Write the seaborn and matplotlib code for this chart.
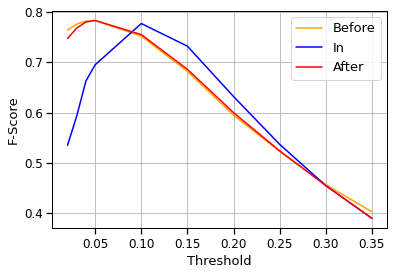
import numpy as np
import pandas as pd
import matplotlib
matplotlib.use("Agg")
import matplotlib.pyplot as plt
import seaborn as sns

# threshold sweep results
thresholds = [0.02, 0.03, 0.04, 0.05, 0.10, 0.15, 0.20, 0.25, 0.30, 0.35]
before = [0.764, 0.776, 0.782, 0.783, 0.752, 0.682, 0.595, 0.523, 0.457, 0.403]
inside = [0.535, 0.593, 0.663, 0.695, 0.777, 0.732, 0.632, 0.537, 0.455, 0.390]
after = [0.747, 0.768, 0.780, 0.783, 0.755, 0.686, 0.600, 0.524, 0.455, 0.390]

sns.set_theme(style="ticks", rc={
    "axes.edgecolor": "black",
    "axes.linewidth": 1.0,
    "axes.labelcolor": "black",
    "text.color": "black",
    "xtick.color": "black",
    "ytick.color": "black",
    "grid.color": "#b0b0b0",
    "grid.linewidth": 0.8,
    "font.size": 12,
    "axes.labelsize": 13,
    "xtick.labelsize": 12,
    "ytick.labelsize": 12,
    "legend.fontsize": 13,
})
plt.rcParams["font.family"] = ["DejaVu Sans"]

df = pd.DataFrame({"Threshold": thresholds, "Before": before, "In": inside, "After": after})
long = df.melt(id_vars="Threshold", var_name="Stage", value_name="F-Score")

fig = plt.figure(figsize=(393 / 72, 272 / 72), dpi=72)
ax = fig.add_axes([0.133, 0.161, 0.852, 0.800])
sns.lineplot(data=long, x="Threshold", y="F-Score", hue="Stage",
             palette={"Before": "orange", "In": "blue", "After": "red"},
             linewidth=1.5, ax=ax)
ax.grid(True)
ax.set_xticks([0.05, 0.10, 0.15, 0.20, 0.25, 0.30, 0.35])
ax.set_yticks([0.4, 0.5, 0.6, 0.7, 0.8])
ax.legend(loc="upper right", title=None)

fig.savefig("out.png", dpi=72)
